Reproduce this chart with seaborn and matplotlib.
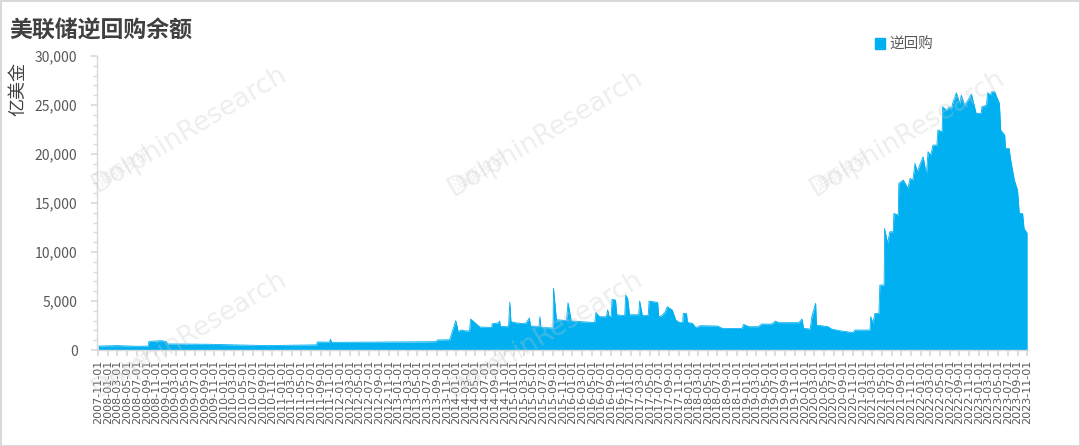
import pandas as pd
import numpy as np
import seaborn as sns
import matplotlib.pyplot as plt
import matplotlib.dates as mdates
from matplotlib.patches import Patch
from matplotlib.ticker import MultipleLocator, FuncFormatter

# 数据：逆回购余额（亿美金）
fechas = [
    '2007-11-01', '2008-03-01', '2008-07-01', '2008-09-10', '2008-09-15', '2008-12-01',
    '2009-01-01', '2009-01-10', '2009-09-15', '2010-05-01', '2010-10-01', '2011-04-01',
    '2011-07-01', '2011-08-05', '2011-08-10', '2011-10-25', '2011-11-01', '2011-11-08',
    '2012-06-01', '2013-01-01', '2013-06-01', '2013-08-25', '2013-09-05', '2013-11-20',
    '2013-12-28', '2014-01-12', '2014-02-03', '2014-02-25', '2014-03-25', '2014-03-31',
    '2014-04-20', '2014-05-28', '2014-08-10', '2014-08-15', '2014-09-20', '2014-09-30',
    '2014-10-05', '2014-11-25', '2014-12-03', '2014-12-10', '2015-01-01', '2015-02-15',
    '2015-03-15', '2015-04-05', '2015-04-12', '2015-06-05', '2015-06-10', '2015-06-17',
    '2015-09-01', '2015-09-04', '2015-09-22', '2015-11-25', '2015-12-04', '2015-12-25',
    '2016-02-15', '2016-05-20', '2016-05-28', '2016-06-18', '2016-08-01', '2016-08-10',
    '2016-08-19', '2016-09-01', '2016-09-06', '2016-09-28', '2016-10-06', '2016-11-25',
    '2016-12-01', '2016-12-13', '2016-12-25', '2017-02-21', '2017-02-27', '2017-03-16',
    '2017-04-22', '2017-04-27', '2017-06-20', '2017-06-27', '2017-07-15', '2017-08-05',
    '2017-08-20', '2017-09-20', '2017-10-12', '2017-11-03', '2017-11-25', '2017-11-28',
    '2017-12-18', '2017-12-25', '2018-01-25', '2018-02-15', '2018-03-15', '2018-07-01',
    '2018-08-01', '2018-12-03', '2018-12-12', '2019-01-15', '2019-03-15', '2019-04-05',
    '2019-06-08', '2019-07-01', '2019-07-20', '2019-11-25', '2019-12-15', '2019-12-25',
    '2020-02-05', '2020-02-15', '2020-03-10', '2020-03-15', '2020-05-28', '2020-06-18',
    '2020-08-20', '2020-10-20', '2020-11-01', '2020-11-12', '2021-02-15', '2021-02-20',
    '2021-03-05', '2021-03-18', '2021-04-12', '2021-04-18', '2021-05-15', '2021-05-18',
    '2021-06-05', '2021-06-20', '2021-07-12', '2021-07-15', '2021-08-12', '2021-08-15',
    '2021-09-12', '2021-10-12', '2021-10-25', '2021-11-12', '2021-11-25', '2021-12-10',
    '2021-12-25', '2022-01-15', '2022-02-05', '2022-02-15', '2022-03-05', '2022-03-18',
    '2022-04-12', '2022-04-18', '2022-05-15', '2022-05-18', '2022-06-10', '2022-07-01',
    '2022-07-10', '2022-07-20', '2022-08-12', '2022-09-03', '2022-09-12', '2022-10-03',
    '2022-10-25', '2022-11-15', '2022-12-15', '2023-01-15', '2023-01-20', '2023-02-18',
    '2023-02-25', '2023-03-15', '2023-03-22', '2023-04-10', '2023-05-10', '2023-05-18',
    '2023-06-12', '2023-06-18', '2023-07-10', '2023-07-20', '2023-08-12', '2023-09-01',
    '2023-09-12', '2023-10-03', '2023-10-12', '2023-11-01',
]
valores = [
    400, 450, 380, 400, 880, 950,
    880, 620, 590, 500, 450, 500,
    520, 520, 820, 800, 1100, 780,
    800, 820, 830, 850, 1020, 1050,
    3000, 1900, 2050, 1950, 1950, 3150,
    2900, 2350, 2300, 2700, 2750, 2950,
    2400, 2380, 4900, 2900, 2800, 2700,
    2750, 3270, 2450, 2400, 3400, 2300,
    2250, 6300, 3100, 3000, 4830, 2960,
    2900, 2800, 3840, 3400, 3400, 4100,
    3400, 3450, 5170, 5100, 3600, 3500,
    5600, 5300, 3600, 3600, 5000, 3500,
    3550, 5000, 4850, 3400, 3500, 3850,
    4420, 4080, 3060, 2820, 2820, 3740,
    3740, 2820, 2720, 2280, 2480, 2450,
    2210, 2200, 2620, 2380, 2380, 2650,
    2650, 2950, 2790, 2790, 3160, 2210,
    2140, 3400, 4760, 2550, 2380, 2140,
    1940, 1800, 1800, 2040, 2040, 3400,
    2720, 3740, 3740, 6630, 6630, 12410,
    10880, 12070, 12070, 13940, 13770, 17000,
    17340, 16490, 17510, 17340, 19040, 18190,
    18870, 19720, 17850, 20230, 19890, 20910,
    20910, 22440, 22270, 24820, 24480, 24820,
    24480, 25160, 26250, 25160, 26010, 24990,
    25500, 26110, 24140, 24140, 24820, 24990,
    26250, 26010, 26350, 26350, 25160, 22440,
    21930, 20570, 20570, 19380, 17340, 16320,
    13940, 13940, 12410, 11900,
]

df = pd.DataFrame({'fecha': pd.to_datetime(fechas), 'valor': valores})

azul = '#00B0F0'
gris_texto = '#595959'
gris_eje = '#D9D9D9'

sns.set_theme(style='white')
plt.rcParams['font.family'] = ['Noto Sans CJK SC', 'DejaVu Sans']

fig = plt.figure(figsize=(10.8, 4.46), dpi=100)
ax = fig.add_axes([0.0898, 0.2152, 0.8622, 0.6592])

# AREA
ax.fill_between(df['fecha'], 0, df['valor'], color=azul, linewidth=0, zorder=2)
sns.lineplot(data=df, x='fecha', y='valor', color=azul, linewidth=0.6, ax=ax, zorder=2)

ax.set_ylim(0, 30000)
ax.set_xlim(pd.Timestamp('2007-10-24'), pd.Timestamp('2023-11-07'))

# EJE Y
ax.yaxis.set_major_locator(MultipleLocator(5000))
ax.yaxis.set_minor_locator(MultipleLocator(1000))
ax.yaxis.set_major_formatter(FuncFormatter(lambda v, p: f'{int(v):,}'))
ax.tick_params(axis='y', which='major', labelsize=10, labelcolor=gris_texto,
               color=gris_eje, length=4, direction='out', left=True, pad=10)
ax.tick_params(axis='y', which='minor', color=gris_eje, length=3, direction='out', left=True)
ax.set_ylabel('')

# EJE X
ax.xaxis.set_major_locator(mdates.MonthLocator(bymonth=[1, 3, 5, 7, 9, 11], bymonthday=1))
ax.xaxis.set_major_formatter(mdates.DateFormatter('%Y-%m-%d'))
ax.tick_params(axis='x', which='major', labelsize=8, labelcolor=gris_texto, rotation=90,
               color=gris_eje, length=4, direction='out', bottom=True, pad=3)
for lbl in ax.get_xticklabels():
    lbl.set_family(['DejaVu Sans'])
ax.set_xlabel('')

for lado in ['top', 'right']:
    ax.spines[lado].set_visible(False)
for lado in ['left', 'bottom']:
    ax.spines[lado].set_color(gris_eje)
    ax.spines[lado].set_linewidth(1)

# TEXTOS
fig.text(0.009, 0.93, '美联储逆回购余额', fontsize=16.5, fontweight='bold', color='#404040',
         ha='left', va='center')
fig.text(0.017, 0.80, '亿美金', fontsize=13, color='#404040', rotation=90,
         ha='center', va='center')

ax.legend(handles=[Patch(facecolor=azul, edgecolor=azul, label='逆回购')],
          loc='center left', bbox_to_anchor=(0.798, 0.9), bbox_transform=fig.transFigure,
          frameon=False, fontsize=10.5, handlelength=0.7, handleheight=0.7,
          handletextpad=0.3, labelcolor=gris_texto)

# MARCAS DE AGUA
for (wx, wy) in [(0.175, 0.71), (0.505, 0.70), (0.84, 0.70), (0.175, 0.25), (0.505, 0.25)]:
    fig.text(wx, wy, 'DolphinResearch', fontsize=19, color='#C8C8C8', alpha=0.3,
             rotation=31, ha='center', va='center', family=['DejaVu Sans'], zorder=5)
    fig.text(wx - 0.06, wy - 0.085, '海豚投研', fontsize=11, color='#C8C8C8', alpha=0.3,
             rotation=31, ha='center', va='center', zorder=5)

fig.patch.set_edgecolor('#D9D9D9')
fig.patch.set_linewidth(2)

plt.savefig('out.png', dpi=100)
